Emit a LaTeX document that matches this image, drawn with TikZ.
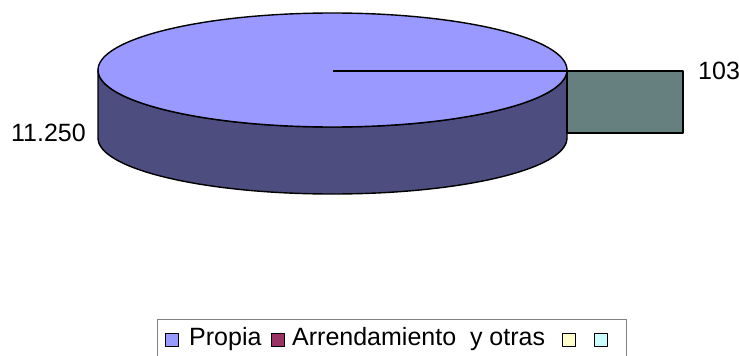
\documentclass[tikz,border=0pt]{standalone}
\usepackage{fontspec}
\setmainfont{Liberation Sans}
\definecolor{tapa}{HTML}{9999FF}
\definecolor{lado}{HTML}{4D4D80}
\definecolor{cuna}{HTML}{668080}
\definecolor{granate}{HTML}{993366}
\definecolor{crema}{HTML}{FFFFCC}
\definecolor{celeste}{HTML}{CCFFFF}
\begin{document}
\begin{tikzpicture}[x=1pt,y=-1pt,line join=round,
  borde/.style={draw=black,line width=1.4pt},
  dato/.style={font=\fontsize{25}{28}\selectfont,inner sep=0pt},
  cuadro/.style={draw=black,line width=1.3pt,minimum size=13pt,inner sep=0pt},
  leyenda/.style={font=\fontsize{25}{28}\selectfont,inner sep=0pt,anchor=west}]
\useasboundingbox (0,0) rectangle (739,356);
\coordinate (izq) at (98,70);
\coordinate (der) at (567,70);
\coordinate (centro) at (333,71);
\coordinate (esq) at (683,71);
\path[borde,fill=lado] (izq) -- ++(0,68)
  arc[start angle=180,end angle=360,x radius=234.5pt,y radius=56pt]
  -- (der) arc[start angle=0,end angle=-180,x radius=234.5pt,y radius=57pt] -- cycle;
\path[borde,fill=tapa] (332.5,70) ellipse[x radius=234.5pt,y radius=57pt];
\path[borde,fill=cuna] (der |- centro) rectangle (683,133);
\draw[line width=1.6pt] (centro) -- (esq);
\node[dato,anchor=west] (n103) at ([xshift=15pt]esq) {103};
\node[dato,anchor=east] (n11250) at (86,133) {11.250};
\draw[gray,line width=1pt] (157,360) -- (157,319) -- (626,319) -- (626,360);
\node[cuadro,fill=tapa] (c1) at (172,340) {};
\node[leyenda] (t1) at (189,339) {Propia};
\node[cuadro,fill=granate] (c2) at (278,340) {};
\node[leyenda] (t2) at (292,339) {Arrendamiento\ \ y otras};
\node[cuadro,fill=crema] (c3) at (569,340) {};
\node[cuadro,fill=celeste] (c4) at (601,340) {};
\end{tikzpicture}
\end{document}
